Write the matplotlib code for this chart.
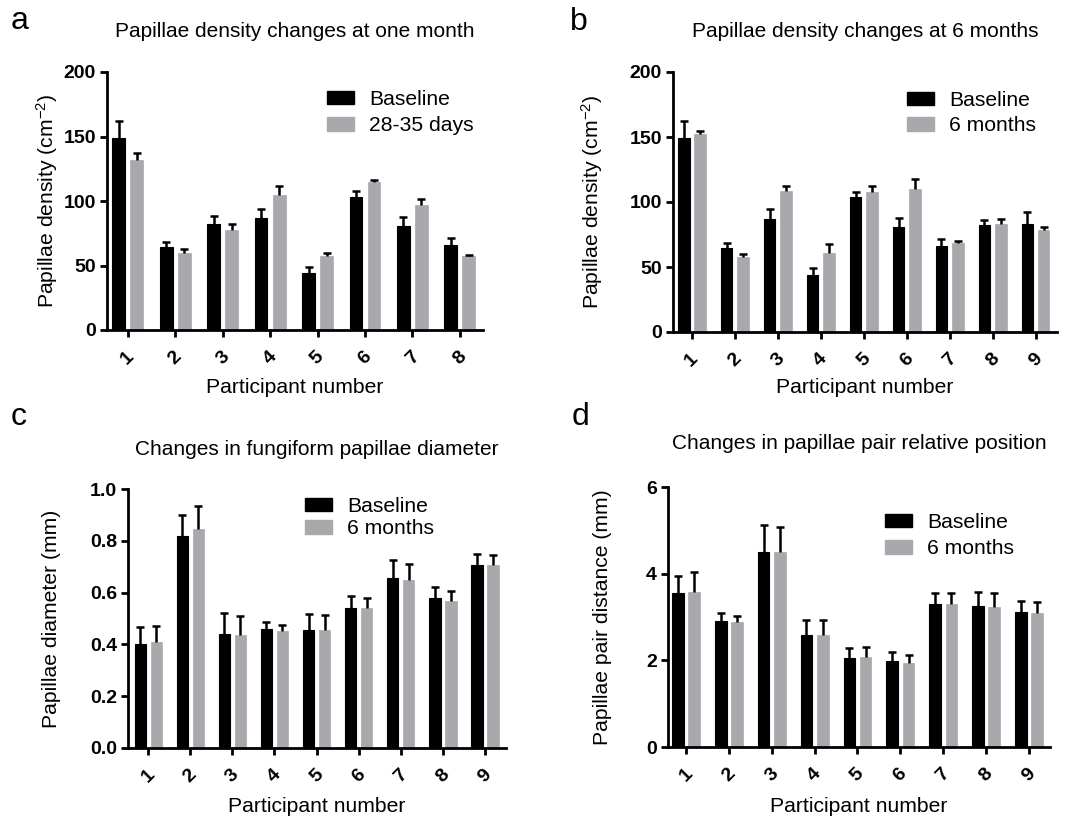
import numpy as np
import matplotlib
matplotlib.use("Agg")
import matplotlib.pyplot as plt
from matplotlib.patches import Patch

plt.rcParams['font.family'] = ['Liberation Sans', 'DejaVu Sans']
plt.rcParams['mathtext.fontset'] = 'custom'
plt.rcParams['mathtext.rm'] = 'Liberation Sans'
plt.rcParams['mathtext.it'] = 'Liberation Sans:italic'

# ---------------- data ----------------
participants_a = [1, 2, 3, 4, 5, 6, 7, 8]
a_baseline = [149, 64.5, 82, 87, 44, 103, 81, 66]
a_baseline_err = [13, 3.5, 6, 7, 5, 4.5, 6.5, 5]
a_followup = [132, 60, 77.5, 105, 57, 114.5, 97, 57]
a_followup_err = [5, 3, 4.5, 7, 2.5, 2, 4.5, 1]

participants_b = [1, 2, 3, 4, 5, 6, 7, 8, 9]
b_baseline = [149, 65, 87, 44, 104, 81, 66, 82, 83.3]
b_baseline_err = [13, 3.5, 7.4, 5, 3.7, 7, 5.8, 4, 9]
b_followup = [152.6, 58, 108.5, 61, 107.4, 110, 68.7, 83.3, 78.7]
b_followup_err = [1.8, 2, 3.8, 6.7, 4.6, 7.4, 1.6, 3.7, 2.3]

participants_c = [1, 2, 3, 4, 5, 6, 7, 8, 9]
c_baseline = [0.402, 0.817, 0.441, 0.458, 0.457, 0.540, 0.658, 0.579, 0.708]
c_baseline_err = [0.064, 0.083, 0.080, 0.030, 0.060, 0.046, 0.069, 0.043, 0.042]
c_followup = [0.409, 0.847, 0.436, 0.450, 0.457, 0.540, 0.649, 0.569, 0.708]
c_followup_err = [0.061, 0.089, 0.075, 0.026, 0.057, 0.040, 0.063, 0.036, 0.038]

participants_d = [1, 2, 3, 4, 5, 6, 7, 8, 9]
d_baseline = [3.55, 2.91, 4.50, 2.58, 2.05, 1.98, 3.29, 3.25, 3.12]
d_baseline_err = [0.40, 0.18, 0.62, 0.35, 0.23, 0.22, 0.27, 0.33, 0.26]
d_followup = [3.58, 2.88, 4.49, 2.58, 2.07, 1.93, 3.29, 3.24, 3.10]
d_followup_err = [0.46, 0.14, 0.59, 0.35, 0.23, 0.19, 0.26, 0.32, 0.25]

BLACK = '#000000'
GRAY = '#A7A9AC'
W, H = 1073, 817
FS_LABEL = 15.2
FS_TITLE = 15
FS_TICK = 14
FS_LETTER = 23

fig = plt.figure(figsize=(W / 100, H / 100), dpi=100)


def px_rect(l, t, r, b):
    return [l / W, 1 - b / H, (r - l) / W, (b - t) / H]


def draw_panel(rect, cats, base, base_err, foll, foll_err, ylim, yticks, yfmt,
               ylabel, ylab_x, xlim, legend_labels, legend_xy, legend_spacing,
               title, title_y, letter, letter_xy, xlabel_y):
    ax = fig.add_axes(px_rect(*rect))
    x = np.array(cats, dtype=float)
    bw = 0.27
    off = 0.19
    ax.bar(x - off, base, width=bw, color=BLACK, edgecolor=BLACK, linewidth=0.8, zorder=2)
    ax.bar(x + off, foll, width=bw, color=GRAY, edgecolor=GRAY, linewidth=0.5, zorder=2)
    for xs, v, e in ((x - off, base, base_err), (x + off, foll, foll_err)):
        v = np.array(v, dtype=float)
        e = np.array(e, dtype=float)
        _, caps, _ = ax.errorbar(xs, v, yerr=[np.zeros_like(e), e], fmt='none',
                                 ecolor=BLACK, elinewidth=1.8, capsize=3.2,
                                 capthick=1.8, zorder=3)
        for c in caps:
            if np.allclose(c.get_ydata(), v):
                c.set_visible(False)
    ax.set_xlim(*xlim)
    ax.set_ylim(*ylim)
    ax.set_yticks(yticks)
    ax.set_yticklabels([yfmt.format(t) for t in yticks])
    ax.set_xticks(x)
    ax.set_xticklabels([str(c) for c in cats], rotation=45, ha='center', va='top')
    for s in ('top', 'right'):
        ax.spines[s].set_visible(False)
    for s in ('left', 'bottom'):
        ax.spines[s].set_linewidth(2.0)
    ax.tick_params(axis='both', width=2.0, length=5, labelsize=FS_TICK, direction='out')
    ax.tick_params(axis='y', pad=3)
    ax.tick_params(axis='x', pad=8)
    for lab in ax.get_xticklabels() + ax.get_yticklabels():
        lab.set_fontweight('bold')
    ax.set_ylabel(ylabel, fontsize=FS_LABEL)
    ax.yaxis.set_label_coords(ylab_x, 0.5)
    ax.set_xlabel('Participant number', fontsize=FS_LABEL)
    l, t, r, b = rect
    ax.xaxis.set_label_coords(0.5, (b - xlabel_y) / (b - t))
    ax.xaxis.label.set_va('baseline')
    handles = [Patch(facecolor=BLACK, edgecolor=BLACK, label=legend_labels[0]),
               Patch(facecolor=GRAY, edgecolor=GRAY, label=legend_labels[1])]
    ax.legend(handles=handles, loc='upper left',
              bbox_to_anchor=(legend_xy[0] / W, 1 - legend_xy[1] / H),
              bbox_transform=fig.transFigure, frameon=False, fontsize=FS_LABEL,
              handlelength=1.28, handleheight=0.62, handletextpad=0.71,
              labelspacing=legend_spacing, borderpad=0, borderaxespad=0)
    fig.text(((l + r) / 2) / W, 1 - title_y / H, title, ha='center', va='baseline',
             fontsize=FS_TITLE)
    fig.text(letter_xy[0] / W, 1 - letter_xy[1] / H, letter, ha='left', va='baseline',
             fontsize=FS_LETTER)
    return ax


draw_panel((107, 72, 483, 330), participants_a, a_baseline, a_baseline_err,
           a_followup, a_followup_err, (0, 200), [0, 50, 100, 150, 200], '{:.0f}',
           'Papillae density (cm$^{-2}$)', (60 - 107) / 376, (0.56, 8.49),
           ['Baseline', '28-35 days'], (327, 90), 0.34,
           'Papillae density changes at one month', 37, 'a', (11, 29), 393)

draw_panel((673, 72, 1057, 332), participants_b, b_baseline, b_baseline_err,
           b_followup, b_followup_err, (0, 200), [0, 50, 100, 150, 200], '{:.0f}',
           'Papillae density (cm$^{-2}$)', (605 - 673) / 384, (0.56, 9.5),
           ['Baseline', '6 months'], (907, 91), 0.29,
           'Papillae density changes at 6 months', 37, 'b', (570, 30), 393)

draw_panel((128, 489, 506, 748), participants_c, c_baseline, c_baseline_err,
           c_followup, c_followup_err, (0, 1.0), [0.0, 0.2, 0.4, 0.6, 0.8, 1.0], '{:.1f}',
           'Papillae diameter (mm)', (61 - 128) / 378, (0.52, 9.5),
           ['Baseline', '6 months'], (305, 497), 0.15,
           'Changes in fungiform papillae diameter', 455, 'c', (11, 425), 812)

draw_panel((668, 487, 1050, 747), participants_d, d_baseline, d_baseline_err,
           d_followup, d_followup_err, (0, 6), [0, 2, 4, 6], '{:.0f}',
           'Papillae pair distance (mm)', (612 - 668) / 382, (0.58, 9.49),
           ['Baseline', '6 months'], (885, 513), 0.34,
           'Changes in papillae pair relative position', 449, 'd', (572, 425), 812)

fig.savefig('out.png', dpi=100)
